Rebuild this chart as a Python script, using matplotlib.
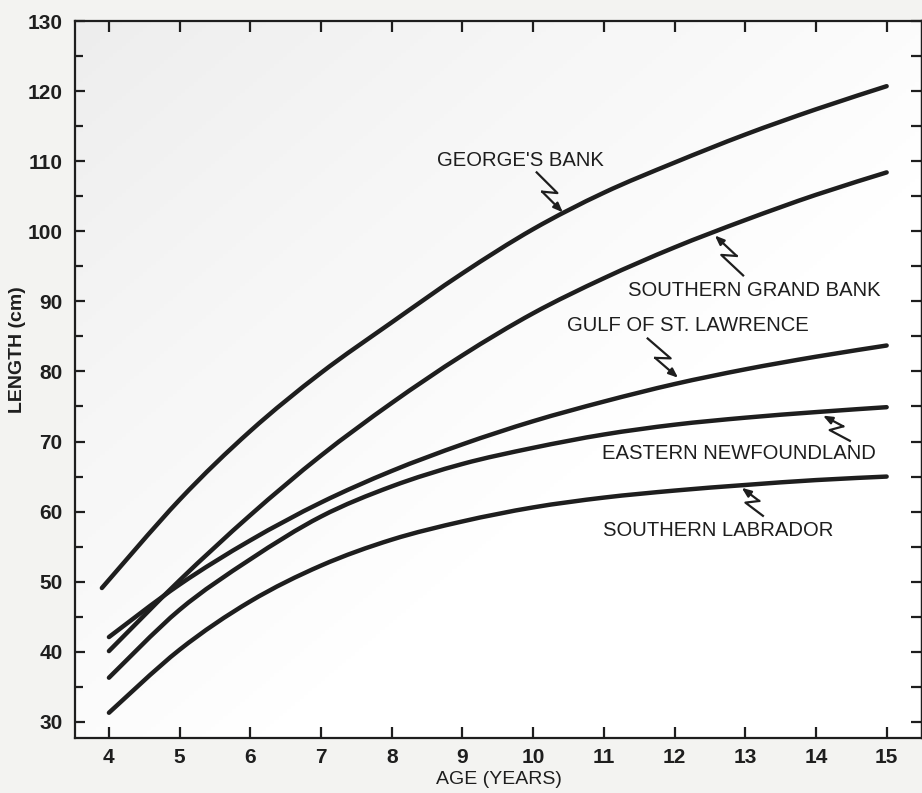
import numpy as np
import matplotlib.pyplot as plt
from matplotlib.path import Path
from matplotlib.patches import PathPatch

# growth curves (length in cm at age)
ages = [4, 5, 6, 7, 8, 9, 10, 11, 12, 13, 14, 15]
georges_ages = [3.9, 5, 6, 7, 8, 9, 10, 11, 12, 13, 14, 15]
georges_bank = [49.1, 61.7, 71.5, 79.8, 87.0, 94.0, 100.3, 105.5, 109.8, 113.8, 117.4, 120.7]
grand_bank = [40.1, 50.2, 59.5, 68.0, 75.5, 82.3, 88.3, 93.3, 97.7, 101.6, 105.2, 108.4]
gulf_st_lawrence = [42.1, 49.6, 55.9, 61.3, 65.8, 69.6, 72.9, 75.7, 78.2, 80.3, 82.1, 83.7]
east_newfoundland = [36.3, 46.0, 53.2, 59.3, 63.6, 66.8, 69.1, 71.0, 72.4, 73.4, 74.2, 74.9]
south_labrador = [31.3, 40.3, 47.2, 52.3, 56.0, 58.6, 60.6, 62.0, 63.0, 63.8, 64.5, 65.0]

# label text, text anchor (age, length), arrow start and arrow tip
labels = ["GEORGE'S BANK", "SOUTHERN GRAND BANK", "GULF OF ST. LAWRENCE",
          "EASTERN NEWFOUNDLAND", "SOUTHERN LABRADOR"]
label_pos = [(8.64, 110.1), (11.34, 91.6), (10.48, 86.6), (10.97, 68.3), (10.99, 57.3)]
arrow_from = [(10.05, 108.4), (12.97, 93.7), (11.62, 84.7), (14.48, 70.1), (13.25, 59.4)]
arrow_to = [(10.42, 102.7), (12.57, 99.4), (12.05, 79.1), (14.10, 73.7), (12.95, 63.4)]

ink = "#1e1e1e"
plt.rcParams["font.family"] = ["Liberation Sans", "DejaVu Sans"]


def smooth_line(ax, xs, ys, **kw):
    # draw the curve through the read points as cubic bezier pieces (catmull-rom)
    p = np.column_stack([xs, ys]).astype(float)
    ext = np.vstack([p[0], p, p[-1]])
    verts = [p[0]]
    codes = [Path.MOVETO]
    for i in range(len(p) - 1):
        a, b, c, d = ext[i], ext[i + 1], ext[i + 2], ext[i + 3]
        verts += [b + (c - a) / 6, c - (d - b) / 6, c]
        codes += [Path.CURVE4] * 3
    ax.add_patch(PathPatch(Path(verts, codes), fill=False, **kw))


fig = plt.figure(figsize=(9.22, 7.93), dpi=100)
fig.patch.set_facecolor("#f3f3f1")
ax = fig.add_axes([75 / 922, 1 - 738 / 793, 1 - 75 / 922, (738 - 21) / 793])
ax.set_xlim(3.52, 15.5)
ax.set_ylim(27.7, 130)

# paper shading, grey top-left fading to white
gx, gy = np.meshgrid(np.linspace(0, 1, 200), np.linspace(0, 1, 200))
shade = np.clip(0.8 * gx + 0.8 * gy, 0, 1)
ax.imshow(shade, cmap="Greys_r", vmin=-6, vmax=1, extent=[0, 1, 0, 1],
          transform=ax.transAxes, aspect="auto", zorder=0)

style = dict(edgecolor=ink, lw=3.2, capstyle="round", joinstyle="round", zorder=3)
smooth_line(ax, georges_ages, georges_bank, **style)
smooth_line(ax, ages, grand_bank, **style)
smooth_line(ax, ages, gulf_st_lawrence, **style)
smooth_line(ax, ages, east_newfoundland, **style)
smooth_line(ax, ages, south_labrador, **style)

# zig-zag leader arrows
inv = ax.transData.inverted()
for s, t in zip(arrow_from, arrow_to):
    S = ax.transData.transform(s)
    T = ax.transData.transform(t)
    d = T - S
    L = np.hypot(*d)
    u = d / L
    n = np.array([-u[1], u[0]])
    m1 = S + 0.6 * L * u + 6 * n
    m2 = S + 0.4 * L * u - 6 * n
    pts = inv.transform(np.array([S, m1, m2]))
    ax.plot(pts[:, 0], pts[:, 1], color=ink, lw=1.6, zorder=3)
    ax.annotate("", xy=t, xytext=tuple(pts[2]),
                arrowprops=dict(arrowstyle="-|>,head_length=0.55,head_width=0.22",
                                color=ink, lw=1.6, shrinkA=0, shrinkB=0), zorder=3)

for txt, (x, y) in zip(labels, label_pos):
    ax.text(x, y, txt, fontsize=14.6, color=ink, ha="left", va="center", zorder=4)

for side in ["left", "bottom", "top", "right"]:
    ax.spines[side].set_linewidth(1.6)
    ax.spines[side].set_color(ink)

ax.set_xticks(ages)
ax.set_yticks(np.arange(30, 131, 10))
ax.set_yticks(np.arange(35, 130, 5), minor=True)
ax.tick_params(axis="both", which="both", direction="in", color=ink, width=1.6,
               labelsize=15, labelcolor=ink)
ax.tick_params(axis="x", which="major", length=8, pad=7, top=True)
ax.tick_params(axis="y", which="major", length=7, pad=9)
ax.tick_params(axis="y", which="minor", length=6)
for lab in ax.get_xticklabels() + ax.get_yticklabels():
    lab.set_fontweight("bold")

# right side carries a tick every 5 cm
ry = ax.secondary_yaxis("right")
ry.set_yticks(np.arange(30, 131, 5))
ry.tick_params(direction="in", length=8, width=1.6, color=ink, labelright=False)
ry.spines["right"].set_linewidth(1.6)

ax.set_xlabel("AGE (YEARS)", fontsize=14, color=ink, labelpad=3)
fig.text(18 / 922, 1 - 350 / 793, "LENGTH (cm)", rotation=90, fontsize=14,
         color=ink, ha="center", va="center", fontweight="bold")

fig.savefig("out.png", dpi=100, facecolor=fig.get_facecolor())
